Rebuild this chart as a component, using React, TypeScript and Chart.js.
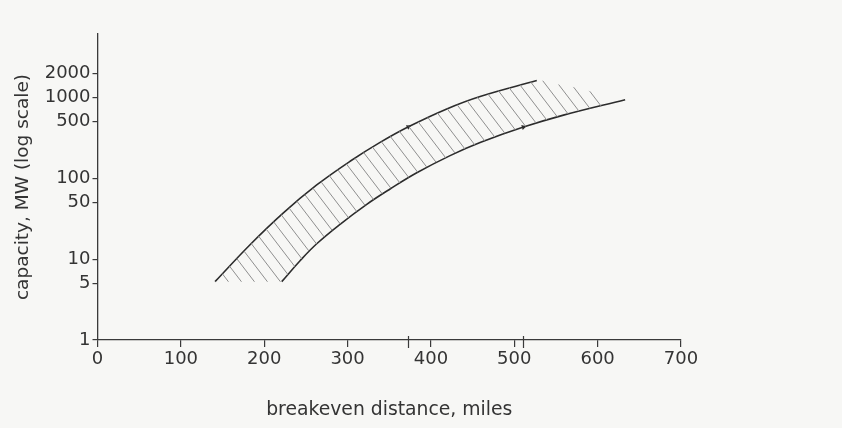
import React, { useEffect, useRef } from "react";
import { Chart, registerables } from "chart.js";

Chart.register(...registerables);

// ---- data (miles, MW) ----
const UPPER_X = [141, 183, 223, 263, 303, 339, 373, 419, 459, 527];
const UPPER_Y = [5.27, 15.1, 37.4, 82.7, 162.5, 278, 434, 722, 1029, 1620];
const LOWER_X = [221, 243, 263, 291, 323, 351, 383, 423, 459, 511, 559, 633];
const LOWER_Y = [5.27, 9.56, 15.5, 27.0, 47.7, 73.8, 117, 191, 277, 430, 605, 939];

// boundaries of the hatched band
const HATCH_TOP_X = [141, 183, 223, 263, 303, 339, 373, 419, 459, 527, 541, 599, 613];
const HATCH_TOP_Y = [5.27, 15.1, 37.4, 82.7, 162.5, 278, 434, 722, 1029, 1620, 1531, 1120, 832];
const HATCH_BOTTOM_X = [141, 220, 221, 243, 263, 291, 323, 351, 383, 423, 459, 511, 559, 613];
const HATCH_BOTTOM_Y = [5.27, 5.27, 5.27, 9.56, 15.5, 27.0, 47.7, 73.8, 117, 191, 277, 430, 605, 832];

// marks on the curves and on the distance axis
const UPPER_MARK = 373;
const LOWER_MARK = 511;
const AXIS_MARKS = [373, 511];

const X_TICKS = [0, 100, 200, 300, 400, 500, 600, 700];
const Y_TICKS = [1, 5, 10, 50, 100, 500, 1000, 2000];
const X_MIN = 0;
const X_MAX = 700;
const Y_MIN = 1;
const Y_MAX = 6100;

const X_TITLE = "breakeven distance, miles";
const Y_TITLE = "capacity, MW (log scale)";

const FONT = "DejaVu Sans";
const TEXT = "#343434";
const AXIS = "#3a3a3a";
const CURVE = "#2c2c2c";
const HATCH = "#8e8e8e";
const PAPER = "#f7f7f5";
const TENSION = 0.4;

const pts = (xs: number[], ys: number[]) => xs.map((x, i) => ({ x, y: ys[i] }));

function makeHatch(): CanvasPattern | string {
  const c = document.createElement("canvas");
  const w = 13;
  const h = 17;
  c.width = w;
  c.height = h;
  const g = c.getContext("2d");
  if (!g) return HATCH;
  g.strokeStyle = HATCH;
  g.lineWidth = 1;
  for (let k = -1; k <= 1; k++) {
    g.beginPath();
    g.moveTo(k * w, 0);
    g.lineTo(k * w + w, h);
    g.stroke();
  }
  const p = g.createPattern(c, "repeat");
  return p || HATCH;
}

const paperPlugin = {
  id: "paper",
  beforeDraw(chart: any) {
    const { ctx, width, height } = chart;
    ctx.save();
    ctx.fillStyle = PAPER;
    ctx.fillRect(0, 0, width, height);
    ctx.restore();
  },
};

const axisMarksPlugin = {
  id: "axisMarks",
  afterDraw(chart: any) {
    const { ctx, chartArea, scales } = chart;
    const xs = scales.x;
    ctx.save();
    ctx.strokeStyle = AXIS;
    ctx.lineWidth = 1.2;
    AXIS_MARKS.forEach((v) => {
      const px = Math.round(xs.getPixelForValue(v)) + 0.5;
      ctx.beginPath();
      ctx.moveTo(px, chartArea.bottom - 4);
      ctx.lineTo(px, chartArea.bottom + 8);
      ctx.stroke();
    });
    ctx.restore();
  },
};

export default function App() {
  const ref = useRef<HTMLCanvasElement | null>(null);

  useEffect(() => {
    document.body.style.margin = "0";
    document.body.style.background = PAPER;
    const canvas = ref.current;
    if (!canvas) return;
    const hatch = makeHatch();
    const tickFont = { family: FONT, size: 18 };

    const chart = new Chart(canvas, {
      type: "line",
      data: {
        datasets: [
          {
            data: pts(HATCH_BOTTOM_X, HATCH_BOTTOM_Y),
            borderColor: "rgba(0,0,0,0)",
            borderWidth: 0,
            pointRadius: 0,
            fill: false,
            tension: TENSION,
          },
          {
            data: pts(HATCH_TOP_X, HATCH_TOP_Y),
            borderColor: "rgba(0,0,0,0)",
            borderWidth: 0,
            pointRadius: 0,
            backgroundColor: hatch as any,
            fill: "-1",
            tension: TENSION,
          },
          {
            data: pts(UPPER_X, UPPER_Y),
            borderColor: CURVE,
            borderWidth: 1.6,
            fill: false,
            tension: TENSION,
            pointRadius: UPPER_X.map((x) => (x === UPPER_MARK ? 3 : 0)),
            pointStyle: "triangle",
            pointRotation: 63,
            pointBackgroundColor: CURVE,
            pointBorderColor: CURVE,
            pointBorderWidth: 0,
          },
          {
            data: pts(LOWER_X, LOWER_Y),
            borderColor: CURVE,
            borderWidth: 1.6,
            fill: false,
            tension: TENSION,
            pointRadius: LOWER_X.map((x) => (x === LOWER_MARK ? 3 : 0)),
            pointStyle: "triangle",
            pointRotation: 74,
            pointBackgroundColor: CURVE,
            pointBorderColor: CURVE,
            pointBorderWidth: 0,
          },
        ],
      },
      options: {
        responsive: false,
        animation: false,
        devicePixelRatio: 1,
        layout: { padding: { left: 0, right: 161, top: 34, bottom: 0 } },
        plugins: {
          legend: { display: false },
          tooltip: { enabled: false },
        },
        scales: {
          x: {
            type: "linear",
            min: X_MIN,
            max: X_MAX,
            afterBuildTicks: (s: any) => {
              s.ticks = X_TICKS.map((v) => ({ value: v }));
            },
            afterFit: (s: any) => {
              s.height = 88;
            },
            ticks: {
              autoSkip: false,
              maxRotation: 0,
              font: tickFont,
              color: TEXT,
              padding: 2,
              callback: (v: any) => String(v),
            },
            grid: {
              display: true,
              drawOnChartArea: false,
              drawTicks: true,
              tickLength: 7,
              color: AXIS,
              lineWidth: 1.2,
            },
            border: { display: true, color: AXIS, width: 1.3 },
            title: {
              display: true,
              text: X_TITLE,
              color: TEXT,
              font: { family: FONT, size: 18.8 },
              padding: { top: 0, bottom: 7 },
            },
          },
          y: {
            type: "logarithmic",
            min: Y_MIN,
            max: Y_MAX,
            afterBuildTicks: (s: any) => {
              s.ticks = Y_TICKS.map((v) => ({ value: v }));
            },
            afterFit: (s: any) => {
              s.width = 97.5;
            },
            ticks: {
              autoSkip: false,
              font: tickFont,
              color: TEXT,
              padding: 2,
              callback: (v: any) => String(v),
            },
            grid: {
              display: true,
              drawOnChartArea: false,
              drawTicks: true,
              tickLength: 5,
              color: AXIS,
              lineWidth: 1.2,
            },
            border: { display: true, color: AXIS, width: 1.3 },
            title: {
              display: true,
              text: Y_TITLE,
              color: TEXT,
              font: { family: FONT, size: 18.5 },
              padding: { top: 12, bottom: 0 },
            },
          },
        },
      },
      plugins: [paperPlugin, axisMarksPlugin],
    } as any);

    return () => {
      chart.destroy();
    };
  }, []);

  return (
    <div style={{ width: 842, height: 428, position: "relative" }}>
      <canvas ref={ref} width={842} height={428} style={{ display: "block" }} />
    </div>
  );
}
